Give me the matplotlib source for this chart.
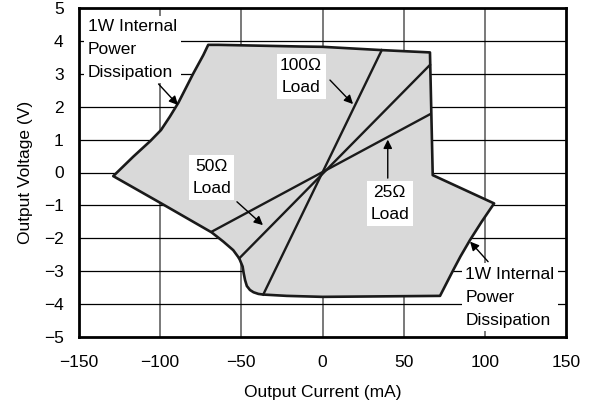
import matplotlib
matplotlib.use("Agg")
import matplotlib.pyplot as plt

plt.rcParams['font.family'] = ['Liberation Sans', 'DejaVu Sans']

# Safe operating region boundary (Output Current mA, Output Voltage V)
region_x = [-128.9, -116.6, -106.0, -99.5, -94.0, -88.8, -79.6, -73.4, -70.4, -64.2, -14.0, 0.0,
            36.5, 66.2, 67.9, 105.7, 98.0, 90.9, 85.0, 80.6, 72.4, 0.0,
            -22.0, -36.5, -39.5, -42.5, -44.7, -46.6, -47.7, -48.6, -49.2, -51.3, -55.0, -61.1, -68.3,
            -99.3]
region_y = [-0.11, 0.48, 0.96, 1.29, 1.70, 2.12, 3.01, 3.57, 3.88, 3.88, 3.83, 3.82,
            3.72, 3.65, -0.08, -0.94, -1.50, -2.05, -2.55, -2.96, -3.75, -3.78,
            -3.75, -3.71, -3.69, -3.64, -3.57, -3.45, -3.27, -3.05, -2.86, -2.61, -2.36, -2.10, -1.82,
            -0.94]

# Load lines (endpoints)
load100_x = [-36.5, 36.5]
load100_y = [-3.71, 3.72]
load50_x = [-51.3, 66.2]
load50_y = [-2.61, 3.27]
load25_x = [-68.3, 66.2]
load25_y = [-1.80, 1.77]

x_ticks = [-150, -100, -50, 0, 50, 100, 150]
y_ticks = [-5, -4, -3, -2, -1, 0, 1, 2, 3, 4, 5]

fig = plt.figure(figsize=(5.9, 4.0), dpi=100)
ax = fig.add_axes([79/590, 1 - 337/400, (566 - 79)/590, (337 - 8)/400])

ax.set_xlim(-150, 150)
ax.set_ylim(-5, 5)
ax.set_xticks(x_ticks)
ax.set_yticks(y_ticks)
ax.set_xticklabels(['\u2212150', '\u2212100', '\u221250', '0', '50', '100', '150'])
ax.set_yticklabels(['\u22125', '\u22124', '\u22123', '\u22122', '\u22121', '0', '1', '2', '3', '4', '5'])
ax.tick_params(length=0, labelsize=12.5, colors='black')
ax.tick_params(axis='x', pad=13)
ax.tick_params(axis='y', pad=11)

for xv in x_ticks[1:-1]:
    ax.axvline(xv, color='#555555', lw=1.1, zorder=1)
for yv in y_ticks[1:-1]:
    ax.axhline(yv, color='black', lw=0.9, zorder=1)

ax.fill(region_x, region_y, facecolor='#d9d9d9', edgecolor='none', zorder=2)
ax.fill(region_x, region_y, facecolor='none', edgecolor='#1a1a1a', lw=1.9, zorder=4,
        joinstyle='round')

for lx, ly in [(load100_x, load100_y), (load50_x, load50_y), (load25_x, load25_y)]:
    ax.plot(lx, ly, color='#1a1a1a', lw=1.7, zorder=3)

for s in ax.spines.values():
    s.set_linewidth(2.0)
    s.set_zorder(6)

bbox = dict(facecolor='white', edgecolor='none', pad=2.5)
fs = 12.5
ls = 1.65

ax.text(-144.5, 4.66, '1W Internal\nPower\nDissipation', ha='left', va='top',
        fontsize=fs, linespacing=ls, bbox=bbox, zorder=5)
ax.text(88.0, -2.87, '1W Internal\nPower\nDissipation', ha='left', va='top',
        fontsize=fs, linespacing=ls, bbox=bbox, zorder=5)
ax.text(-13.2, 2.92, '100\u03a9\nLoad', ha='center', va='center',
        fontsize=fs, linespacing=ls, bbox=bbox, zorder=5)
ax.text(-68.3, -0.15, '50\u03a9\nLoad', ha='center', va='center',
        fontsize=fs, linespacing=ls, bbox=bbox, zorder=5)
ax.text(41.4, -0.94, '25\u03a9\nLoad', ha='center', va='center',
        fontsize=fs, linespacing=ls, bbox=bbox, zorder=5)

arrow = dict(arrowstyle='-|>', color='black', lw=1.0, mutation_scale=13,
             shrinkA=0, shrinkB=0)
ax.annotate('', xy=(-89.0, 2.05), xytext=(-101.0, 2.69), arrowprops=arrow, zorder=7)
ax.annotate('', xy=(18.8, 2.08), xytext=(4.6, 2.81), arrowprops=arrow, zorder=7)
ax.annotate('', xy=(-36.7, -1.60), xytext=(-52.7, -0.89), arrowprops=arrow, zorder=7)
ax.annotate('', xy=(40.2, 1.00), xytext=(40.2, -0.17), arrowprops=arrow, zorder=7)
ax.annotate('', xy=(90.9, -2.10), xytext=(102.0, -2.71), arrowprops=arrow, zorder=7)

ax.set_xlabel('Output Current (mA)', fontsize=12.5, labelpad=11)
ax.set_ylabel('Output Voltage (V)', fontsize=12.5, labelpad=8)

fig.savefig('out.png', dpi=100)
